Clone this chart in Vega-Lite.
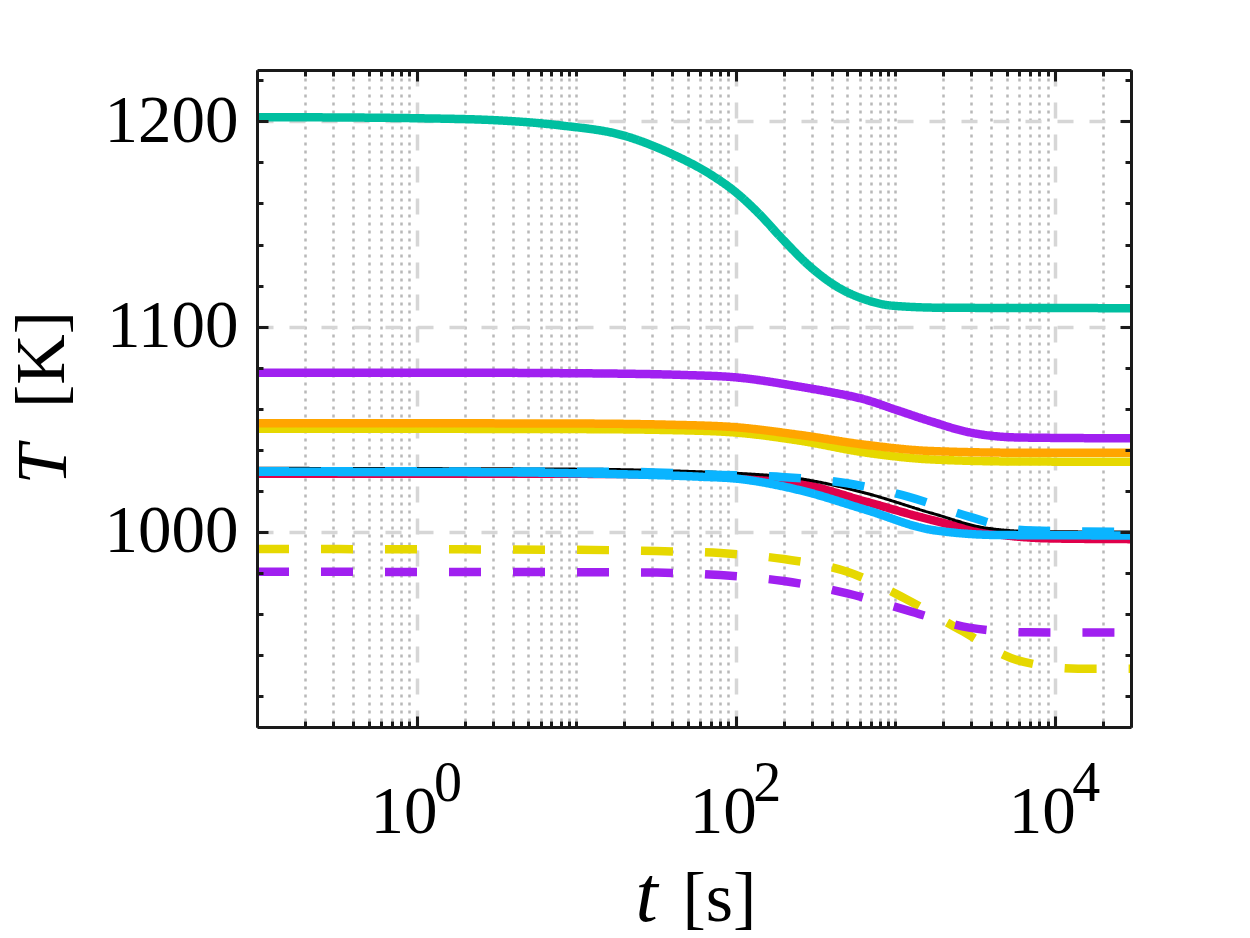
{
  "$schema": "https://vega.github.io/schema/vega-lite/v6.json",
  "width": 874,
  "height": 657,
  "autosize": {"type": "none"},
  "padding": {"left": 257, "top": 70, "right": 119, "bottom": 211},
  "background": "#ffffff",
  "config": {
    "view": {"stroke": null},
    "axis": {
      "labelFont": "Liberation Serif",
      "titleFont": "Liberation Serif",
      "labelFontSize": 67,
      "titleFontSize": 70,
      "titleFontWeight": "normal",
      "labelColor": "#000000",
      "titleColor": "#000000",
      "tickColor": "#1a1a1a",
      "tickWidth": 3,
      "domainColor": "#1a1a1a",
      "domainWidth": 3,
      "labelOverlap": false,
      "labelFlush": false,
      "labelBound": false
    }
  },
  "data": {
    "values": [
      {"case": "teal", "style": "solid", "time": 0.1, "temp": 1202},
      {"case": "teal", "style": "solid", "time": 0.3, "temp": 1201.9},
      {"case": "teal", "style": "solid", "time": 1, "temp": 1201.5},
      {"case": "teal", "style": "solid", "time": 3, "temp": 1200.6},
      {"case": "teal", "style": "solid", "time": 8, "temp": 1198},
      {"case": "teal", "style": "solid", "time": 20, "temp": 1193},
      {"case": "teal", "style": "solid", "time": 40, "temp": 1184},
      {"case": "teal", "style": "solid", "time": 70, "temp": 1174},
      {"case": "teal", "style": "solid", "time": 100, "temp": 1165.5},
      {"case": "teal", "style": "solid", "time": 140, "temp": 1155},
      {"case": "teal", "style": "solid", "time": 200, "temp": 1142},
      {"case": "teal", "style": "solid", "time": 290, "temp": 1129.5},
      {"case": "teal", "style": "solid", "time": 430, "temp": 1119.5},
      {"case": "teal", "style": "solid", "time": 660, "temp": 1113},
      {"case": "teal", "style": "solid", "time": 960, "temp": 1110.2},
      {"case": "teal", "style": "solid", "time": 2000, "temp": 1109.2},
      {"case": "teal", "style": "solid", "time": 30000, "temp": 1109},

      {"case": "purple", "style": "solid", "time": 0.1, "temp": 1077.6},
      {"case": "purple", "style": "solid", "time": 1, "temp": 1077.6},
      {"case": "purple", "style": "solid", "time": 10, "temp": 1077.3},
      {"case": "purple", "style": "solid", "time": 50, "temp": 1076.4},
      {"case": "purple", "style": "solid", "time": 100, "temp": 1075.3},
      {"case": "purple", "style": "solid", "time": 250, "temp": 1070.8},
      {"case": "purple", "style": "solid", "time": 400, "temp": 1068},
      {"case": "purple", "style": "solid", "time": 660, "temp": 1064.3},
      {"case": "purple", "style": "solid", "time": 1000, "temp": 1059.6},
      {"case": "purple", "style": "solid", "time": 1700, "temp": 1053.7},
      {"case": "purple", "style": "solid", "time": 2800, "temp": 1048.8},
      {"case": "purple", "style": "solid", "time": 6000, "temp": 1046},
      {"case": "purple", "style": "solid", "time": 30000, "temp": 1045.6},

      {"case": "yellow", "style": "solid", "time": 0.1, "temp": 1050.3},
      {"case": "yellow", "style": "solid", "time": 10, "temp": 1050.1},
      {"case": "yellow", "style": "solid", "time": 40, "temp": 1049.6},
      {"case": "yellow", "style": "solid", "time": 100, "temp": 1048.4},
      {"case": "yellow", "style": "solid", "time": 250, "temp": 1044.5},
      {"case": "yellow", "style": "solid", "time": 660, "temp": 1038.6},
      {"case": "yellow", "style": "solid", "time": 1700, "temp": 1035.3},
      {"case": "yellow", "style": "solid", "time": 6000, "temp": 1034.3},
      {"case": "yellow", "style": "solid", "time": 30000, "temp": 1034.2},

      {"case": "orange", "style": "solid", "time": 0.1, "temp": 1053},
      {"case": "orange", "style": "solid", "time": 10, "temp": 1052.8},
      {"case": "orange", "style": "solid", "time": 40, "temp": 1052.2},
      {"case": "orange", "style": "solid", "time": 100, "temp": 1051},
      {"case": "orange", "style": "solid", "time": 250, "temp": 1047.3},
      {"case": "orange", "style": "solid", "time": 660, "temp": 1042.4},
      {"case": "orange", "style": "solid", "time": 1700, "temp": 1039.4},
      {"case": "orange", "style": "solid", "time": 6000, "temp": 1038.6},
      {"case": "orange", "style": "solid", "time": 30000, "temp": 1038.6},

      {"case": "crimson", "style": "solid", "time": 0.1, "temp": 1028.4},
      {"case": "crimson", "style": "solid", "time": 10, "temp": 1028.3},
      {"case": "crimson", "style": "solid", "time": 60, "temp": 1027.6},
      {"case": "crimson", "style": "solid", "time": 100, "temp": 1027},
      {"case": "crimson", "style": "solid", "time": 250, "temp": 1023.7},
      {"case": "crimson", "style": "solid", "time": 660, "temp": 1014.7},
      {"case": "crimson", "style": "solid", "time": 1700, "temp": 1005.8},
      {"case": "crimson", "style": "solid", "time": 4500, "temp": 998.7},
      {"case": "crimson", "style": "solid", "time": 10000, "temp": 996.8},
      {"case": "crimson", "style": "solid", "time": 30000, "temp": 996.5},

      {"case": "black", "style": "solid", "time": 0.1, "temp": 1031},
      {"case": "black", "style": "solid", "time": 10, "temp": 1030.6},
      {"case": "black", "style": "solid", "time": 60, "temp": 1029.3},
      {"case": "black", "style": "solid", "time": 100, "temp": 1028.6},
      {"case": "black", "style": "solid", "time": 250, "temp": 1026},
      {"case": "black", "style": "solid", "time": 660, "temp": 1018.8},
      {"case": "black", "style": "solid", "time": 1700, "temp": 1009.1},
      {"case": "black", "style": "solid", "time": 3800, "temp": 1001.8},
      {"case": "black", "style": "solid", "time": 8000, "temp": 1000.1},
      {"case": "black", "style": "solid", "time": 30000, "temp": 1000},

      {"case": "blue", "style": "solid", "time": 0.1, "temp": 1029.3},
      {"case": "blue", "style": "solid", "time": 3, "temp": 1029.1},
      {"case": "blue", "style": "solid", "time": 13, "temp": 1028.4},
      {"case": "blue", "style": "solid", "time": 60, "temp": 1026.9},
      {"case": "blue", "style": "solid", "time": 100, "temp": 1026},
      {"case": "blue", "style": "solid", "time": 250, "temp": 1020.4},
      {"case": "blue", "style": "solid", "time": 660, "temp": 1010.7},
      {"case": "blue", "style": "solid", "time": 1700, "temp": 1001},
      {"case": "blue", "style": "solid", "time": 4500, "temp": 998.5},
      {"case": "blue", "style": "solid", "time": 30000, "temp": 998.3},

      {"case": "yellow", "style": "dashed", "time": 0.1, "temp": 991.7},
      {"case": "yellow", "style": "dashed", "time": 10, "temp": 991.3},
      {"case": "yellow", "style": "dashed", "time": 32, "temp": 990.7},
      {"case": "yellow", "style": "dashed", "time": 80, "temp": 989.7},
      {"case": "yellow", "style": "dashed", "time": 200, "temp": 986.8},
      {"case": "yellow", "style": "dashed", "time": 500, "temp": 980.6},
      {"case": "yellow", "style": "dashed", "time": 1150, "temp": 967.6},
      {"case": "yellow", "style": "dashed", "time": 2560, "temp": 952.2},
      {"case": "yellow", "style": "dashed", "time": 5800, "temp": 937.6},
      {"case": "yellow", "style": "dashed", "time": 14000, "temp": 933.4},
      {"case": "yellow", "style": "dashed", "time": 30000, "temp": 933.4},

      {"case": "purple", "style": "dashed", "time": 0.1, "temp": 980.6},
      {"case": "purple", "style": "dashed", "time": 10, "temp": 980.4},
      {"case": "purple", "style": "dashed", "time": 32, "temp": 980.2},
      {"case": "purple", "style": "dashed", "time": 80, "temp": 979},
      {"case": "purple", "style": "dashed", "time": 200, "temp": 976.1},
      {"case": "purple", "style": "dashed", "time": 500, "temp": 970.1},
      {"case": "purple", "style": "dashed", "time": 1200, "temp": 961.7},
      {"case": "purple", "style": "dashed", "time": 2900, "temp": 953.4},
      {"case": "purple", "style": "dashed", "time": 6800, "temp": 951.1},
      {"case": "purple", "style": "dashed", "time": 30000, "temp": 951},

      {"case": "blue", "style": "dashed", "time": 0.1, "temp": 1029.6},
      {"case": "blue", "style": "dashed", "time": 20, "temp": 1029.3},
      {"case": "blue", "style": "dashed", "time": 80, "temp": 1027.8},
      {"case": "blue", "style": "dashed", "time": 200, "temp": 1026.7},
      {"case": "blue", "style": "dashed", "time": 500, "temp": 1023.7},
      {"case": "blue", "style": "dashed", "time": 1200, "temp": 1017.2},
      {"case": "blue", "style": "dashed", "time": 2900, "temp": 1007.5},
      {"case": "blue", "style": "dashed", "time": 6500, "temp": 1000.8},
      {"case": "blue", "style": "dashed", "time": 30000, "temp": 1000}
    ]
  },
  "layer": [
    {
      "mark": {"type": "point", "opacity": 0},
      "encoding": {
        "x": {
          "field": "time",
          "type": "quantitative",
          "scale": {"type": "log", "domain": [0.1, 30000]},
          "axis": {
            "orient": "bottom",
            "values": [0.1, 0.2, 0.3, 0.4, 0.5, 0.6, 0.7, 0.8, 0.9, 1, 2, 3, 4, 5, 6, 7, 8, 9, 10, 20, 30, 40, 50, 60, 70, 80, 90, 100, 200, 300, 400, 500, 600, 700, 800, 900, 1000, 2000, 3000, 4000, 5000, 6000, 7000, 8000, 9000, 10000, 20000, 30000],
            "domain": false,
            "ticks": false,
            "labelExpr": "datum.value == 1 ? '0' : datum.value == 100 ? '2' : datum.value == 10000 ? '4' : ''",
            "labelFontSize": 56,
            "labelBaseline": "alphabetic",
            "labelPadding": 73,
            "labelOffset": 31,
            "grid": true,
            "gridColor": {"condition": {"test": "datum.value == 1 || datum.value == 100 || datum.value == 10000", "value": "#d6d6d6"}, "value": "#b8b8b8"},
            "gridDash": {"condition": {"test": "datum.value == 1 || datum.value == 100 || datum.value == 10000", "value": [16, 16]}, "value": [3, 5]},
            "gridWidth": {"condition": {"test": "datum.value == 1 || datum.value == 100 || datum.value == 10000", "value": 3.5}, "value": 2.5},
            "title": "t",
            "titleFontStyle": "italic",
            "titleFontSize": 80,
            "titleAlign": "center",
            "titleBaseline": "alphabetic",
            "titleX": 389,
            "titleY": 193,
            "zindex": 0
          }
        },
        "y": {
          "field": "temp",
          "type": "quantitative",
          "scale": {"domain": [905, 1225], "zero": false},
          "axis": {
            "orient": "left",
            "values": [1000, 1100, 1200],
            "domain": false,
            "ticks": false,
            "labels": false,
            "grid": true,
            "gridColor": "#d6d6d6",
            "gridDash": [16, 16],
            "gridWidth": 3.5,
            "title": "T",
            "titleFontStyle": "italic",
            "titleFontSize": 72,
            "titleAlign": "center",
            "titleBaseline": "alphabetic",
            "titleAngle": 270,
            "titleX": -192,
            "titleY": 394,
            "zindex": 0
          }
        }
      }
    },
    {
      "mark": {"type": "line", "interpolate": "monotone", "strokeCap": "butt"},
      "encoding": {
        "x": {
          "field": "time",
          "type": "quantitative",
          "scale": {"type": "log", "domain": [0.1, 30000]},
          "axis": {
            "orient": "bottom",
            "values": [0.1, 0.2, 0.3, 0.4, 0.5, 0.6, 0.7, 0.8, 0.9, 1, 2, 3, 4, 5, 6, 7, 8, 9, 10, 20, 30, 40, 50, 60, 70, 80, 90, 100, 200, 300, 400, 500, 600, 700, 800, 900, 1000, 2000, 3000, 4000, 5000, 6000, 7000, 8000, 9000, 10000, 20000, 30000],
            "labelExpr": "datum.value == 1 || datum.value == 100 || datum.value == 10000 ? '10' : ''",
            "labelBaseline": "alphabetic",
            "labelPadding": 116,
            "labelOffset": -13,
            "tickSize": {"condition": {"test": "datum.value == 1 || datum.value == 100 || datum.value == 10000", "value": -11}, "value": -6},
            "grid": false,
            "title": "[s]",
            "titleAlign": "center",
            "titleBaseline": "alphabetic",
            "titleX": 462,
            "titleY": 193,
            "zindex": 1
          }
        },
        "y": {
          "field": "temp",
          "type": "quantitative",
          "scale": {"domain": [905, 1225], "zero": false},
          "axis": {
            "orient": "left",
            "values": [920, 940, 960, 980, 1000, 1020, 1040, 1060, 1080, 1100, 1120, 1140, 1160, 1180, 1200, 1220],
            "format": "d",
            "labelExpr": "datum.value % 100 == 0 ? datum.label : ''",
            "labelPadding": 30,
            "tickSize": {"condition": {"test": "datum.value % 100 == 0", "value": -11}, "value": -6},
            "grid": false,
            "title": "[K]",
            "titleAlign": "center",
            "titleBaseline": "alphabetic",
            "titleAngle": 270,
            "titleX": -194,
            "titleY": 289,
            "zindex": 1
          }
        },
        "color": {
          "field": "case",
          "type": "nominal",
          "scale": {
            "domain": ["teal", "purple", "yellow", "orange", "crimson", "black", "blue"],
            "range": ["#00bfa0", "#a020f0", "#e6d800", "#ffa500", "#e0004b", "#000000", "#0ab4ff"]
          },
          "legend": null
        },
        "strokeDash": {
          "field": "style",
          "type": "nominal",
          "scale": {"domain": ["solid", "dashed"], "range": [[1, 0], [32, 32]]},
          "legend": null
        },
        "strokeWidth": {"condition": {"test": "datum.case === 'black'", "value": 3}, "value": 8.5}
      }
    },
    {
      "mark": {"type": "point", "opacity": 0},
      "encoding": {
        "x": {
          "field": "time",
          "type": "quantitative",
          "scale": {"type": "log", "domain": [0.1, 30000]},
          "axis": {
            "orient": "top",
            "values": [0.1, 0.2, 0.3, 0.4, 0.5, 0.6, 0.7, 0.8, 0.9, 1, 2, 3, 4, 5, 6, 7, 8, 9, 10, 20, 30, 40, 50, 60, 70, 80, 90, 100, 200, 300, 400, 500, 600, 700, 800, 900, 1000, 2000, 3000, 4000, 5000, 6000, 7000, 8000, 9000, 10000, 20000, 30000],
            "labels": false,
            "title": null,
            "grid": false,
            "tickSize": {"condition": {"test": "datum.value == 1 || datum.value == 100 || datum.value == 10000", "value": -11}, "value": -6},
            "zindex": 1
          }
        },
        "y": {
          "field": "temp",
          "type": "quantitative",
          "scale": {"domain": [905, 1225], "zero": false},
          "axis": {
            "orient": "right",
            "values": [920, 940, 960, 980, 1000, 1020, 1040, 1060, 1080, 1100, 1120, 1140, 1160, 1180, 1200, 1220],
            "labels": false,
            "title": null,
            "grid": false,
            "tickSize": {"condition": {"test": "datum.value % 100 == 0", "value": -11}, "value": -6},
            "zindex": 1
          }
        }
      }
    }
  ],
  "resolve": {"axis": {"x": "independent", "y": "independent"}}
}
